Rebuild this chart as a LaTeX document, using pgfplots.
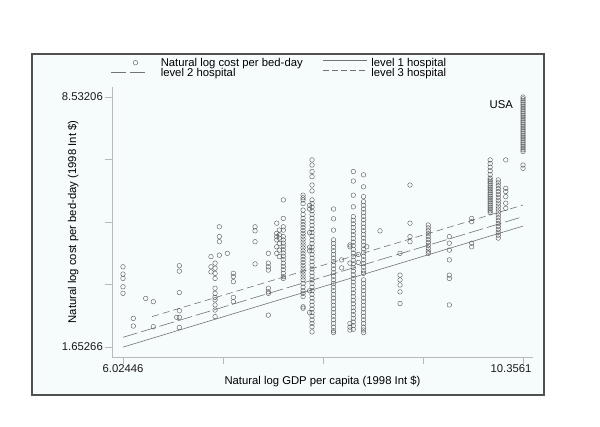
\documentclass[border=0pt]{standalone}
\usepackage{pgfplots}
\pgfplotsset{compat=1.18}
\usepackage{fontspec}
\setmainfont{Liberation Sans}
\definecolor{framebg}{RGB}{246,251,252}
\definecolor{axgray}{RGB}{185,185,185}
\definecolor{mk}{RGB}{85,85,85}
\definecolor{ln}{RGB}{115,115,115}
\definecolor{fr}{RGB}{80,80,80}
\pgfplotstableread{
x y
6.024 3.86
6.024 3.66
6.024 3.54
6.024 3.31
6.024 3.13
6.136 2.44
6.136 2.23
6.270 2.99
6.352 2.90
6.352 2.21
6.606 2.47
6.634 3.89
6.634 3.74
6.634 3.15
6.634 2.65
6.634 2.47
6.634 2.19
6.977 4.14
6.977 3.86
6.977 3.72
7.021 3.96
7.021 3.82
7.021 3.68
7.021 3.54
7.021 3.27
7.021 3.13
7.021 3.02
7.021 2.95
7.021 2.81
7.021 2.67
7.021 2.49
7.067 4.96
7.067 4.69
7.067 4.55
7.067 4.18
7.154 4.23
7.219 3.68
7.219 3.59
7.219 3.45
7.219 3.02
7.219 2.90
7.454 4.96
7.454 4.85
7.454 4.55
7.454 3.94
7.598 4.23
7.598 3.96
7.598 3.86
7.598 3.77
7.598 3.27
7.598 3.17
7.598 3.13
7.598 2.53
7.689 5.06
7.689 4.78
7.689 4.69
7.689 4.60
7.689 4.41
7.689 4.23
7.717 4.87
7.717 4.74
7.717 4.65
7.717 4.50
7.717 4.32
7.717 4.14
7.760 5.70
7.760 5.19
7.760 4.96
7.760 4.87
7.760 4.69
7.760 4.60
7.760 4.51
7.760 4.42
7.760 4.33
7.760 4.24
7.760 4.15
7.760 4.06
7.760 3.96
7.760 3.87
7.760 3.78
7.760 3.68
7.760 3.59
7.760 3.54
7.974 5.83
7.974 5.76
7.974 5.70
7.974 5.60
7.974 5.42
7.974 5.30
7.974 5.19
7.974 5.10
7.974 5.02
7.974 4.94
7.974 4.86
7.974 4.78
7.974 4.70
7.974 4.62
7.974 4.54
7.974 4.46
7.974 4.38
7.974 4.30
7.974 4.22
7.974 4.14
7.974 4.06
7.974 3.98
7.974 3.90
7.974 3.82
7.974 3.74
7.974 3.66
7.974 3.58
7.974 3.50
7.974 3.40
7.974 3.30
7.974 3.20
7.974 3.13
7.974 3.04
7.974 2.76
7.974 2.72
8.045 5.55
8.045 5.45
8.045 4.80
8.045 4.40
8.045 4.30
8.045 3.20
8.045 2.60
8.071 6.80
8.071 6.66
8.071 6.48
8.071 6.34
8.071 6.11
8.071 5.95
8.071 5.70
8.071 5.60
8.071 5.50
8.071 5.40
8.071 5.30
8.071 5.20
8.071 5.10
8.071 5.00
8.071 4.90
8.071 4.80
8.071 4.70
8.071 4.60
8.071 4.50
8.071 4.40
8.071 4.30
8.071 4.20
8.071 4.10
8.071 4.00
8.071 3.90
8.071 3.80
8.071 3.70
8.071 3.60
8.071 3.50
8.071 3.40
8.071 3.30
8.071 3.20
8.071 3.10
8.071 3.00
8.071 2.90
8.071 2.80
8.071 2.70
8.071 2.60
8.071 2.50
8.071 2.40
8.071 2.30
8.071 2.21
8.071 2.07
8.304 5.45
8.304 5.18
8.304 4.87
8.304 4.60
8.304 4.50
8.304 4.40
8.304 4.30
8.304 4.20
8.304 4.10
8.304 4.00
8.304 3.90
8.304 3.80
8.304 3.70
8.304 3.60
8.304 3.50
8.304 3.40
8.304 3.30
8.304 3.20
8.304 3.10
8.304 3.00
8.304 2.90
8.304 2.80
8.304 2.70
8.304 2.60
8.304 2.50
8.304 2.40
8.304 2.30
8.304 2.20
8.304 2.10
8.304 2.05
8.392 4.05
8.392 3.83
8.482 4.46
8.482 4.41
8.482 3.96
8.482 2.30
8.482 2.20
8.482 2.12
8.518 6.48
8.518 6.22
8.518 5.83
8.518 5.51
8.518 5.24
8.518 5.14
8.518 5.04
8.518 4.94
8.518 4.84
8.518 4.74
8.518 4.64
8.518 4.54
8.518 4.44
8.518 4.34
8.518 4.24
8.518 4.14
8.518 4.04
8.518 3.94
8.518 3.84
8.518 3.74
8.518 3.64
8.518 3.54
8.518 3.44
8.518 3.34
8.518 3.24
8.518 3.14
8.518 3.04
8.518 2.94
8.518 2.84
8.518 2.74
8.518 2.64
8.518 2.54
8.518 2.44
8.518 2.34
8.518 2.24
8.518 2.14
8.572 4.20
8.572 3.98
8.629 6.39
8.629 6.06
8.629 5.79
8.629 5.65
8.629 5.55
8.629 5.45
8.629 5.35
8.629 5.25
8.629 5.15
8.629 5.05
8.629 4.95
8.629 4.85
8.629 4.75
8.629 4.65
8.629 4.55
8.629 4.45
8.629 4.35
8.629 4.25
8.629 4.15
8.629 4.05
8.629 3.95
8.629 3.85
8.629 3.75
8.629 3.68
8.629 3.50
8.629 3.40
8.629 3.30
8.629 3.20
8.629 3.10
8.629 3.00
8.629 2.90
8.629 2.80
8.629 2.70
8.629 2.60
8.629 2.50
8.629 2.40
8.629 2.30
8.629 2.20
8.629 2.12
8.629 2.05
8.664 4.41
8.807 4.85
9.024 4.23
9.024 3.63
9.024 3.50
9.024 3.36
9.024 3.17
9.024 2.85
9.132 6.11
9.132 5.06
9.132 4.69
9.132 4.55
9.330 5.01
9.330 4.93
9.330 4.85
9.330 4.77
9.330 4.69
9.330 4.61
9.330 4.53
9.330 4.45
9.330 4.37
9.330 4.29
9.330 4.23
9.558 4.69
9.558 4.51
9.558 4.32
9.558 4.05
9.558 3.63
9.558 3.54
9.558 2.81
9.800 5.19
9.800 5.10
9.800 4.51
9.800 4.41
10.000 6.80
10.000 6.70
10.000 6.60
10.000 6.50
10.000 6.40
10.000 6.30
10.000 6.25
10.000 6.20
10.000 6.15
10.000 6.10
10.000 6.05
10.000 6.00
10.000 5.95
10.000 5.90
10.000 5.85
10.000 5.80
10.000 5.75
10.000 5.70
10.000 5.65
10.000 5.60
10.000 5.55
10.000 5.50
10.000 5.45
10.000 5.40
10.000 5.35
10.088 6.25
10.088 6.17
10.088 6.09
10.088 6.01
10.088 5.93
10.088 5.85
10.088 5.77
10.088 5.69
10.088 5.61
10.088 5.53
10.088 5.45
10.088 5.37
10.088 5.29
10.088 5.21
10.088 5.13
10.088 5.05
10.088 4.97
10.088 4.89
10.088 4.81
10.088 4.73
10.088 4.65
10.169 6.80
10.169 6.02
10.169 5.93
10.169 5.79
10.169 5.61
10.169 5.47
10.356 8.53
10.356 8.48
10.356 8.43
10.356 8.38
10.356 8.33
10.356 8.28
10.356 8.23
10.356 8.18
10.356 8.13
10.356 8.08
10.356 8.03
10.356 7.98
10.356 7.93
10.356 7.88
10.356 7.83
10.356 7.78
10.356 7.73
10.356 7.68
10.356 7.63
10.356 7.58
10.356 7.53
10.356 7.48
10.356 7.43
10.356 7.38
10.356 7.33
10.356 7.28
10.356 7.23
10.356 7.18
10.356 7.13
10.356 7.08
10.356 7.03
10.356 6.66
10.356 6.57
}\costdata
\begin{document}
\begin{tikzpicture}[font=\fontsize{11.3}{13}\selectfont]
\useasboundingbox (-112pt,-70pt) rectangle (488pt,357pt);
\fill[white] (-112pt,-70pt) rectangle (488pt,357pt);
\filldraw[fill=framebg, draw=fr, line width=1.2pt] (-80pt,-38pt) rectangle (432pt,303pt);
\begin{axis}[
  scale only axis, width=421pt, height=270pt,
  at={(0pt,0pt)}, anchor=south west,
  xmin=5.905, xmax=10.464, ymin=1.378, ymax=8.807,
  axis x line*=bottom, axis y line*=left,
  axis line style={axgray, line width=0.6pt},
  xtick={6.02446,7.10737,8.19028,9.27319,10.3561},
  xticklabels={6.02446,,,,\hspace*{-24pt}10.3561},
  ytick={1.65266,3.37251,5.09236,6.81221,8.53206},
  yticklabels={1.65266,,,,8.53206},
  tick align=outside, major tick length=7pt,
  tick style={axgray, line width=0.6pt},
  xticklabel style={inner ysep=0.5pt, text=black!90},
  yticklabel style={inner xsep=2pt, text=black!90},
  xlabel={Natural log GDP per capita (1998 Int \$)},
  ylabel={Natural log cost per bed-day (1998 Int \$)},
  every axis x label/.style={at={(axis description cs:0.5,-0.0889)}, anchor=center},
  every axis y label/.style={at={(axis description cs:-0.0926,0.5)}, anchor=center, rotate=90},
  clip=false,
  legend columns=2,
  legend style={draw=none, fill=none, at={(axis description cs:-0.0095,1.1148)}, anchor=north west,
    row sep=0pt,
    nodes={inner sep=0pt, text height=8pt, text depth=2pt, anchor=west},
    /tikz/column 1/.append style={column sep=14pt},
    /tikz/column 2/.append style={column sep=20pt},
    /tikz/column 3/.append style={column sep=4pt}},
]
\addplot[only marks, mark=o, mark size=2.3pt, color=mk, mark options={line width=0.4pt},
  legend image code/.code={\draw[mk, line width=0.4pt] (24pt,0.5pt) circle (2.3pt); \path (0pt,0.5pt) (35pt,0.5pt);}]
  table[x=x,y=y] {\costdata};
\addlegendentry{Natural log cost per bed-day}
\addplot[ln, line width=0.6pt,
  legend image code/.code={\draw[ln, line width=0.6pt] (0pt,2.5pt) -- (44pt,2.5pt);}]
  coordinates {(6.02446,1.65) (10.3561,4.98)};
\addlegendentry{level 1 hospital}
\addplot[ln, line width=0.6pt, dash pattern=on 15pt off 4pt,
  legend image code/.code={\draw[ln, line width=0.6pt, dash pattern=on 15pt off 4pt] (0pt,0.5pt) -- (35pt,0.5pt);}]
  coordinates {(6.02446,1.92) (10.3561,5.24)};
\addlegendentry{level 2 hospital}
\addplot[ln, line width=0.6pt, dash pattern=on 7pt off 4pt,
  legend image code/.code={\draw[ln, line width=0.6pt, dash pattern=on 6pt off 3pt] (0pt,2.5pt) -- (44pt,2.5pt);}]
  coordinates {(6.34,2.49) (10.3561,5.56)};
\addlegendentry{level 3 hospital}
\node[anchor=east, inner sep=0pt] at (axis cs:10.248,8.312) {USA};
\end{axis}
\end{tikzpicture}
\end{document}
